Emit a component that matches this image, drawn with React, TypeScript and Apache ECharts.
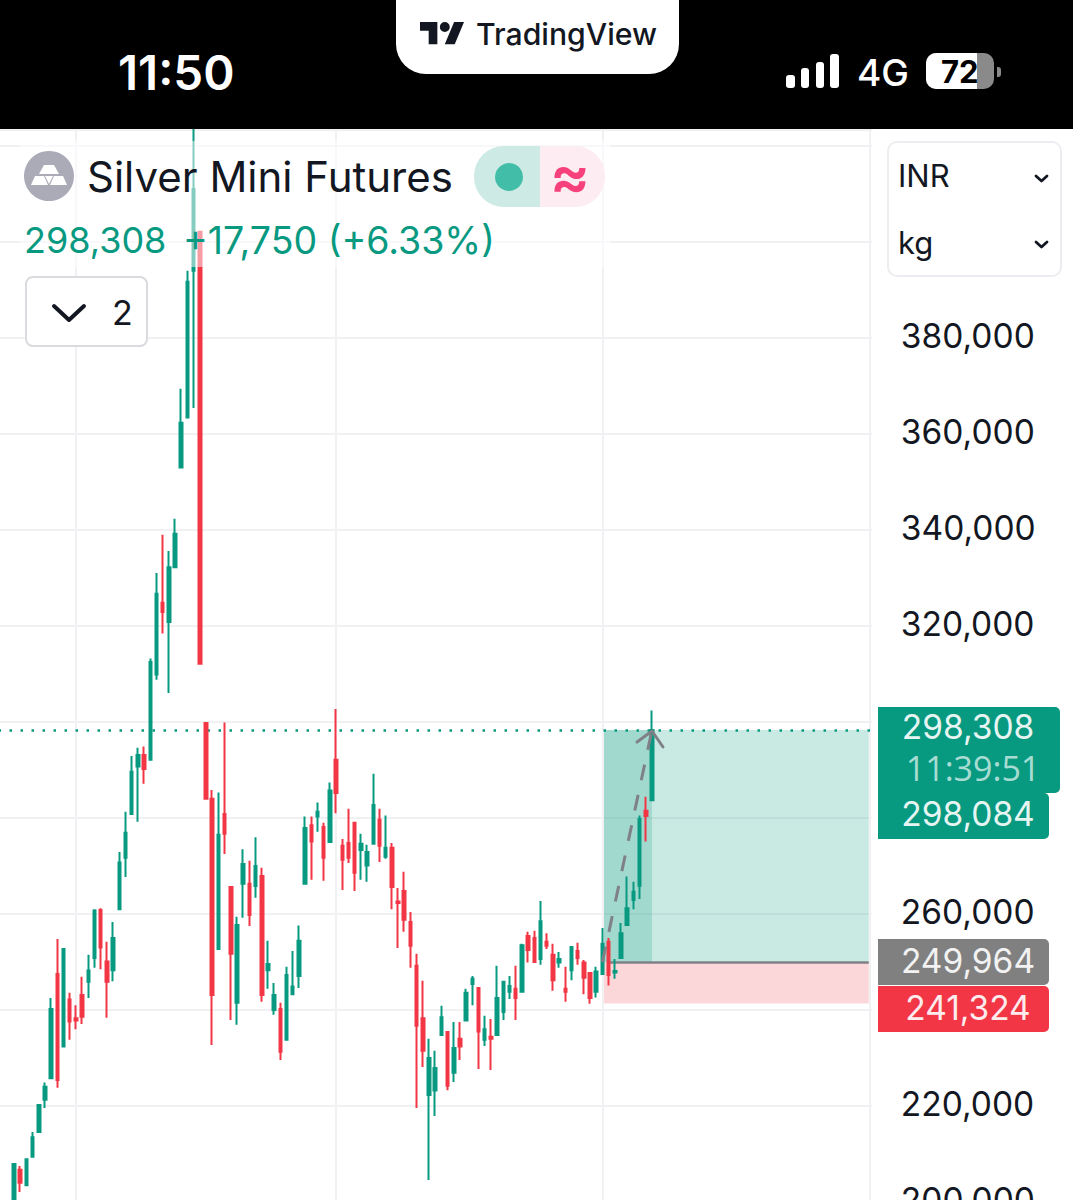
import React, { useEffect, useRef } from "react";
import * as echarts from "echarts";

const FONT = "Inter, 'Noto Sans', sans-serif";
const UP = "#089981";
const DOWN = "#F23645";
const GREY = "#7F8187";
const INK = "#131722";

// Candles, left to right.
const opens = [198300,206700,203500,209400,214600,221300,225800,247500,232400,242200,238300,243100,245900,250800,260800,250100,248300,261000,271700,280800,290700,293100,292100,309900,324800,320800,332200,353000,363400,394000,402100,299800,284000,252700,280800,265600,241500,266300,266300,265800,267900,248300,240000,240200,233800,243300,247100,266300,278500,280300,278100,275000,292100,274200,274800,279000,273300,270100,274600,279600,271900,273800,262600,264800,258300,249200,238300,222300,223200,234800,235400,226900,234000,237800,245400,244600,233800,234400,234800,239600,243800,244400,243800,255400,255000,250600,254200,251500,249900,244400,248300,252300,249900,247700,243800,247500,254200,247800,250800,257700,262900,265900,281500,283700];
const closes = [207900,204000,208900,213500,220200,224000,240200,225400,252700,237600,237800,238600,248200,260700,253000,245900,255000,270700,276900,289600,293100,290200,312500,326700,322900,332200,339200,362300,391700,411000,312100,284000,243100,276500,276700,251700,257700,270400,259800,270000,243100,249600,243100,231300,247300,244900,254400,277900,275100,281300,271700,285700,285200,271300,271700,268600,274600,272900,282700,274200,273800,265600,262300,258800,253400,236700,231500,230000,227900,238500,224200,232100,232400,243600,246500,235500,236000,234000,242500,245900,245000,242500,253500,252500,250000,258500,253400,246200,250600,243800,253100,250800,246700,242500,248000,253800,247300,248100,256000,261200,264600,279800,280400,298308];
const lows = [197300,202100,203500,209400,214600,219600,225800,223800,232400,233800,236000,237100,242500,248800,248500,238400,246000,261000,267700,280800,279200,287100,292100,308800,318400,306000,332200,353000,363400,365400,312100,284000,232700,252700,272500,237900,236900,259200,257500,263400,241700,244400,239000,229600,233800,243100,244600,266300,267100,277100,266900,275000,281000,265000,270600,264800,267100,266700,274600,270800,271500,261000,252900,256300,248800,219600,228100,204600,217900,234800,223300,225000,229600,237800,241000,227700,232500,227500,234800,237900,242300,237900,243800,249900,250000,249400,252700,244000,248800,241700,246200,249400,243300,241300,242600,247500,245100,246500,250800,257700,261000,263100,275100,283700];
const highs = [208100,207500,209000,214600,220400,224900,242500,254800,252900,243600,241000,246900,251500,261000,261200,254200,258300,272900,281300,292900,294600,294900,313200,331000,339000,335600,342300,369400,394000,430000,402100,299800,285800,285300,299900,265700,259400,273500,271100,276000,269600,254400,245600,241500,249000,252300,257600,280300,280300,283200,279000,287400,302700,275600,281900,279000,276700,274400,289200,281900,280500,274800,265400,268800,260400,251700,246100,234000,231500,240900,235400,237500,237500,244400,247100,244600,238800,238100,249200,246000,247100,249200,253800,256300,256500,262700,256000,253800,252100,249000,253200,254000,250400,247800,249000,257100,255000,250600,258100,267800,266700,280500,284400,302400];

const lastPrice = 298308;
const entryPrice = 249964;
const stopPrice = 241324;
const axisTicks = [200000, 220000, 260000, 320000, 340000, 360000, 380000];
const verticalGridAt = [12, 54, 97];
const LEAD = 2;
const SLOTS = 141;
const categories = Array.from({ length: SLOTS }, (_, i) => String(i));
const candleRows = opens.map((o, i) => [i + LEAD, o, closes[i], lows[i], highs[i]]);
const toolStart = 97;
const toolDarkEnd = 105;
const toolEnd = 140;

const txt = (text: string, x: number, y: number, fontSize: number, fill: string, extra: any = {}) => ({
  type: "text",
  x,
  y,
  z: 30,
  silent: true,
  style: { text, fill, fontSize, fontFamily: FONT, textAlign: "left", textVerticalAlign: "middle", ...extra },
});
const box = (x: number, y: number, width: number, height: number, fill: string, r: any = 0, extra: any = {}, z = 20) => ({
  type: "rect",
  z,
  silent: true,
  shape: { x, y, width, height, r },
  style: { fill, ...extra },
});
const stroke = (points: number[][], color: string, lineWidth: number) => ({
  type: "polyline",
  z: 30,
  silent: true,
  shape: { points },
  style: { stroke: color, lineWidth, fill: "none", lineCap: "round", lineJoin: "round" },
});
const poly = (points: number[][], fill: string) => ({ type: "polygon", z: 30, silent: true, shape: { points }, style: { fill } });

export default function App() {
  const ref = useRef<HTMLDivElement>(null);
  useEffect(() => {
    document.body.style.margin = "0";
    document.body.style.background = "#fff";
    echarts.graphic.registerShape(
      "tvLogo",
      echarts.graphic.extendPath(
        "M14 22H7V11H0V4h14v18zM28 22h-8l7.5-18h8L28 22zM24 8a4 4 0 1 1-8 0a4 4 0 0 1 8 0z",
        {}
      )
    );
    const chart = echarts.init(ref.current!, undefined, { renderer: "svg" });
    const option: any = {
      animation: false,
      backgroundColor: "#ffffff",
      grid: { left: -1.485, top: 130, width: 873.35, height: 1072, containLabel: false, outerBoundsMode: "none" },
      xAxis: {
        type: "category",
        data: categories,
        boundaryGap: true,
        axisLine: { show: false },
        axisTick: { show: false },
        axisLabel: { show: false },
        splitLine: { show: false },
      },
      yAxis: {
        type: "value",
        position: "right",
        min: 200000,
        max: 423300,
        interval: 20000,
        scale: true,
        axisLine: { show: false },
        axisTick: { show: false },
        splitLine: { show: true, lineStyle: { color: "#F1F1F4", width: 2 } },
        axisLabel: {
          show: true,
          margin: 29,
          showMinLabel: true,
          color: INK,
          fontFamily: FONT,
          fontSize: 33.5,
          align: "left",
          formatter: (v: number) => (axisTicks.includes(v) ? `{t|${v.toLocaleString("en-US")}}` : ""),
          rich: {
            t: { color: INK, fontFamily: FONT, fontSize: 33.5, padding: [0, 0, 4, 0] },
          },
        },
      },
      series: [
        {
          name: "grid marks",
          type: "line",
          z: 1,
          data: [],
          markLine: {
            silent: true,
            symbol: "none",
            label: { show: false },
            lineStyle: { color: "#F1F1F4", width: 2, type: "solid" },
            data: verticalGridAt.map((i) => ({ xAxis: i })),
          },
        },
        {
          name: "reward zone",
          type: "line",
          z: 2,
          data: [],
          markArea: {
            silent: true,
            itemStyle: { color: "rgba(8,153,129,0.22)" },
            data: [[{ xAxis: toolStart, yAxis: lastPrice }, { xAxis: toolEnd, yAxis: entryPrice }]],
          },
        },
        {
          name: "moved zone",
          type: "line",
          z: 2,
          data: [],
          markArea: {
            silent: true,
            itemStyle: { color: "rgba(8,153,129,0.2)" },
            data: [[{ xAxis: toolStart, yAxis: lastPrice }, { xAxis: toolDarkEnd, yAxis: entryPrice }]],
          },
        },
        {
          name: "risk zone",
          type: "line",
          z: 2,
          data: [],
          markArea: {
            silent: true,
            itemStyle: { color: "rgba(242,54,69,0.2)" },
            data: [[{ xAxis: toolStart, yAxis: entryPrice }, { xAxis: toolEnd, yAxis: stopPrice }]],
          },
        },
        {
          name: "candles",
          type: "candlestick",
          z: 5,
          barWidth: 3,
          encode: { x: 0, y: [1, 2, 3, 4] },
          data: candleRows,
          itemStyle: {
            color: UP,
            color0: DOWN,
            borderColor: UP,
            borderColor0: DOWN,
            borderWidth: 2,
          },
        },
        {
          name: "price marks",
          type: "line",
          z: 6,
          data: [],
          markLine: {
            silent: true,
            symbol: "none",
            label: { show: false },
            data: [
              { yAxis: lastPrice, lineStyle: { color: UP, width: 2.5, type: [2.5, 8.5] } },
              [
                { coord: [98, entryPrice], lineStyle: { color: GREY, width: 2.5, type: "solid" } },
                { coord: [toolEnd, entryPrice] },
              ],
            ],
          },
        },
        {
          name: "move arrow",
          type: "line",
          z: 7,
          showSymbol: false,
          lineStyle: { color: GREY, width: 3, type: [16, 15] },
          data: [
            [toolStart, entryPrice],
            [toolDarkEnd, lastPrice],
          ],
        },
      ],
      graphic: [
        // price-axis separator and arrow head
        { type: "line", z: 3, silent: true, shape: { x1: 870, y1: 130, x2: 870, y2: 1200 }, style: { stroke: "#F1F1F4", lineWidth: 2 } },
        stroke([[637, 742], [652, 731], [663, 747]], GREY, 3),

        // veil of the legend over the candles
        box(20, 141, 590, 126, "rgba(255,255,255,0.5)", 0, {}, 10),

        // status bar
        box(0, 0, 1073, 129, "#000000", 0, {}, 15),
        box(396, -40, 283, 114, "#ffffff", 30),
        { type: "tvLogo", z: 30, silent: true, x: 420, y: 17, scaleX: 1.24, scaleY: 1.24, style: { fill: INK } },
        txt("TradingView", 476, 34, 30.2, INK, { fontWeight: 500 }),
        txt("11:50", 118, 72, 47.5, "#ffffff", { fontWeight: 600 }),
        box(786, 75, 9, 13, "#ffffff", 3),
        box(801, 68, 8, 20, "#ffffff", 3),
        box(816, 62, 8, 26, "#ffffff", 3),
        box(830, 54, 9, 34, "#ffffff", 3),
        txt("4G", 857, 72, 37, "#ffffff", { fontWeight: 500 }),
        box(926, 53, 68, 36, "#8a8a8a", 10),
        box(926, 53, 51, 36, "#ffffff", [10, 0, 0, 10]),
        box(997, 67, 4, 10, "#8a8a8a", [0, 3, 3, 0]),
        txt("72", 941, 71, 31, "#000000", { fontWeight: 700 }),

        // legend
        { type: "circle", z: 25, silent: true, shape: { cx: 49, cy: 176, r: 25 }, style: { fill: "#ABABB8" } },
        poly([[44, 165], [54, 165], [59, 174], [39, 174]], "#ffffff"),
        poly([[35, 176], [44, 176], [48, 185], [31, 185]], "#ffffff"),
        poly([[54, 176], [63, 176], [67, 185], [50, 185]], "#ffffff"),
        poly([[45, 176], [53, 176], [49, 184]], "#ffffff"),
        txt("Silver Mini Futures", 87, 176, 42, INK),
        box(474, 146, 66, 61, "#CDEBE4", [30, 0, 0, 30]),
        box(540, 146, 65, 61, "#FDECF2", [0, 30, 30, 0]),
        { type: "circle", z: 25, silent: true, shape: { cx: 509, cy: 177, r: 14 }, style: { fill: "#42BDA8" } },
        txt("≈", 570, 175, 60, "#F7417D", { textAlign: "center", fontWeight: 600 }),
        txt("298,308", 24, 240, 36, UP),
        txt("+17,750 (+6.33%)", 183, 240, 37.5, UP),
        box(26, 277, 121, 69, "#ffffff", 7, { stroke: "#DADBDF", lineWidth: 2 }),
        stroke([[54, 306], [69, 320], [84, 306]], INK, 4),
        txt("2", 112, 312, 34, INK),

        // currency and unit selectors
        box(888, 142, 173, 134, "#ffffff", 9, { stroke: "#ECEDF0", lineWidth: 2 }),
        txt("INR", 898, 175, 31, INK),
        stroke([[1036, 176], [1041.5, 181], [1047, 176]], INK, 2.8),
        txt("kg", 898, 242, 31, INK),
        stroke([[1036, 242], [1041.5, 247], [1047, 242]], INK, 2.8),

        // price tags
        box(878, 707, 182, 86, UP, [0, 5, 5, 0]),
        txt("298,308", 968, 727, 33.5, "#E6F5F2", { textAlign: "center" }),
        txt("11:39:51", 973, 768, 34, "#A6DCD2", { textAlign: "center", fontFamily: "'Open Sans', Inter, sans-serif" }),
        box(878, 793, 171, 46, UP, [0, 5, 5, 0]),
        txt("298,084", 968, 814, 33.5, "#E6F5F2", { textAlign: "center" }),
        box(878, 939, 171, 46, "#808080", [0, 5, 5, 0]),
        txt("249,964", 968, 961, 33.5, "#F2F2F2", { textAlign: "center" }),
        box(878, 986, 171, 46, DOWN, [0, 5, 5, 0]),
        txt("241,324", 968, 1008, 33.5, "#FDECEE", { textAlign: "center" }),
      ],
    };
    chart.setOption(option);
    return () => chart.dispose();
  }, []);
  return <div ref={ref} style={{ position: "absolute", left: 0, top: 0, width: 1073, height: 1200, overflow: "hidden" }} />;
}
